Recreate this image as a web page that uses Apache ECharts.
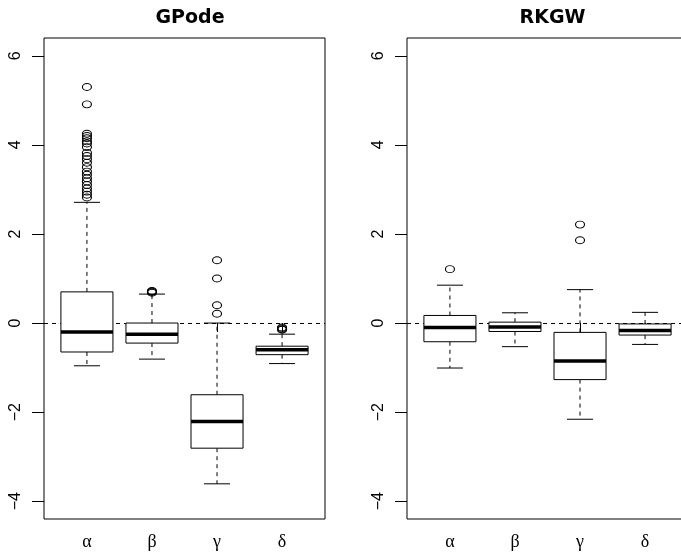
<!DOCTYPE html>
<html>
<head>
<meta charset="utf-8">
<script src="https://cdn.jsdelivr.net/npm/echarts@6/dist/echarts.min.js"></script>
<style>html,body{margin:0;padding:0;background:#fff}#c{width:681px;height:556px}</style>
</head>
<body>
<div id="c"></div>
<script>
// ---- data ----
const categories = ['α', 'β', 'γ', 'δ'];
const panelTitles = ['GPode', 'RKGW'];
const yTicks = [-4, -2, 0, 2, 4, 6];
// [lower whisker, Q1, median, Q3, upper whisker]
const gpodeStats = [
  [-0.96, -0.65, -0.20, 0.70, 2.71],
  [-0.81, -0.45, -0.25, 0.00, 0.65],
  [-3.61, -2.81, -2.21, -1.61, 0.00],
  [-0.91, -0.71, -0.60, -0.52, -0.25]
];
const gpodeOutAlpha = [5.30, 4.91, 4.25, 4.20, 4.15, 4.08, 4.03, 3.95, 3.82, 3.75, 3.68, 3.60, 3.50, 3.40, 3.33, 3.25, 3.18, 3.10, 3.02, 2.95, 2.88, 2.82];
const gpodeOutBeta = [0.68, 0.70, 0.71, 0.72];
const gpodeOutGamma = [1.41, 1.00, 0.40, 0.21];
const gpodeOutDelta = [-0.10, -0.12, -0.14, -0.15];
const rkgwStats = [
  [-1.01, -0.42, -0.10, 0.17, 0.85],
  [-0.53, -0.19, -0.09, 0.02, 0.23],
  [-2.16, -1.27, -0.85, -0.21, 0.75],
  [-0.48, -0.27, -0.17, -0.02, 0.24]
];
const rkgwOutAlpha = [1.21];
const rkgwOutBeta = [];
const rkgwOutGamma = [2.21, 1.86];
const rkgwOutDelta = [];

// ---- build ----
function statsData(stats) {
  return stats.map((s, i) => [i + 1].concat(s));
}
function outData(lists) {
  const out = [];
  lists.forEach((l, i) => l.forEach(v => out.push([i + 1, v])));
  return out;
}
const BOXW = 0.4; // half width in x units
function renderBox(params, api) {
  const x = api.value(0);
  const lo = api.value(1), q1 = api.value(2), md = api.value(3), q3 = api.value(4), hi = api.value(5);
  const pL = api.coord([x - BOXW, q1]);
  const pR = api.coord([x + BOXW, q3]);
  const c = api.coord([x, md]);
  const pLo = api.coord([x, lo]);
  const pHi = api.coord([x, hi]);
  const pQ1 = api.coord([x, q1]);
  const pQ3 = api.coord([x, q3]);
  const sL = api.coord([x - BOXW / 2, lo])[0];
  const sR = api.coord([x + BOXW / 2, lo])[0];
  const thin = { stroke: '#000', lineWidth: 1, fill: null };
  const dash = { stroke: '#000', lineWidth: 1, lineDash: [4, 4], fill: null };
  return {
    type: 'group',
    children: [
      { type: 'line', shape: { x1: c[0], y1: pQ3[1], x2: c[0], y2: pHi[1] }, style: dash },
      { type: 'line', shape: { x1: c[0], y1: pQ1[1], x2: c[0], y2: pLo[1] }, style: dash },
      { type: 'line', shape: { x1: sL, y1: pHi[1], x2: sR, y2: pHi[1] }, style: thin },
      { type: 'line', shape: { x1: sL, y1: pLo[1], x2: sR, y2: pLo[1] }, style: thin },
      { type: 'rect', shape: { x: pL[0], y: pR[1], width: pR[0] - pL[0], height: pL[1] - pR[1] }, style: { stroke: '#000', lineWidth: 1, fill: '#fff' } },
      { type: 'line', shape: { x1: pL[0], y1: c[1], x2: pR[0], y2: c[1] }, style: { stroke: '#000', lineWidth: 3.5 } }
    ]
  };
}

const panels = [
  { stats: gpodeStats, outs: [gpodeOutAlpha, gpodeOutBeta, gpodeOutGamma, gpodeOutDelta], left: 44, cx: 185 },
  { stats: rkgwStats, outs: [rkgwOutAlpha, rkgwOutBeta, rkgwOutGamma, rkgwOutDelta], left: 407, cx: 547.5 }
];

const grids = [], xAxes = [], yAxes = [], series = [], titles = [];
panels.forEach((p, k) => {
  grids.push({ left: p.left, top: 38, width: 281, height: 481, show: true, borderColor: '#000', borderWidth: 1,
    backgroundColor: 'transparent', containLabel: false, outerBoundsMode: 'none' });
  xAxes.push({
    type: 'value', gridIndex: k, min: 0.34, max: 4.66,
    splitLine: { show: false },
    axisLine: { show: false },
    axisTick: { show: true, length: 9, customValues: [1, 2, 3, 4], lineStyle: { color: '#000' } },
    axisLabel: { customValues: [1, 2, 3, 4], margin: 14, color: '#000', fontFamily: 'Liberation Serif', fontSize: 18,
      formatter: v => categories[Math.round(v) - 1] }
  });
  yAxes.push({
    type: 'value', gridIndex: k, min: -4.4, max: 6.4,
    splitLine: { show: false },
    axisLine: { show: false },
    axisTick: { show: true, length: 12, customValues: yTicks, lineStyle: { color: '#000' } },
    axisLabel: { customValues: yTicks, rotate: 90, margin: 20, color: '#000', fontFamily: 'Liberation Sans', fontSize: 16,
      formatter: v => (v < 0 ? '\u2212' + Math.abs(v) : String(v)) }
  });
  series.push({
    type: 'custom', xAxisIndex: k, yAxisIndex: k, renderItem: renderBox,
    data: statsData(p.stats), silent: true, z: 2,
    markLine: { silent: true, symbol: 'none', label: { show: false },
      lineStyle: { color: '#000', type: [4, 4], width: 1 }, data: [{ yAxis: 0 }], z: 1 }
  });
  series.push({
    type: 'scatter', xAxisIndex: k, yAxisIndex: k, data: outData(p.outs),
    symbol: 'circle', symbolSize: [9, 7], silent: true, z: 3,
    itemStyle: { color: 'rgba(0,0,0,0)', borderColor: '#000', borderWidth: 1, opacity: 1 }
  });
  titles.push({ text: panelTitles[k], left: p.cx, textAlign: 'center', top: 4,
    textStyle: { fontFamily: 'DejaVu Sans', fontWeight: 'bold', fontSize: 19, color: '#000' } });
});

const chart = echarts.init(document.getElementById('c'), null, { renderer: 'canvas' });
chart.setOption({
  animation: false,
  backgroundColor: '#fff',
  title: titles,
  grid: grids,
  xAxis: xAxes,
  yAxis: yAxes,
  series: series
});
</script>
</body>
</html>
